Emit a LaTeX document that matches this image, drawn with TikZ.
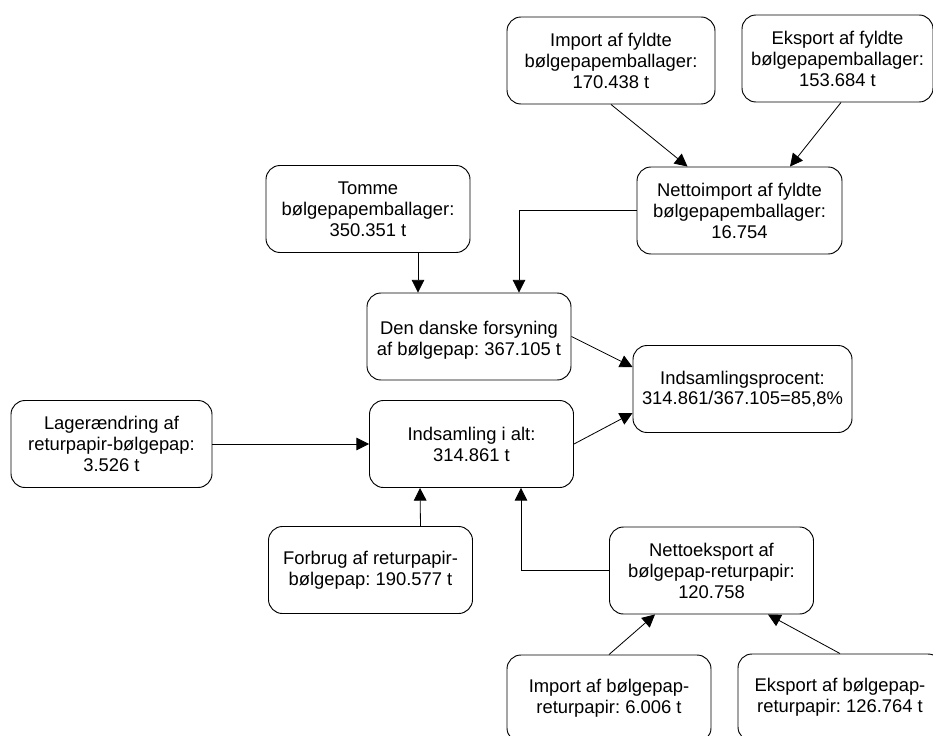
\documentclass[tikz,border=0pt]{standalone}
\usepackage{fontspec}
\setmainfont{Liberation Sans}
\usetikzlibrary{arrows.meta,calc}
\frenchspacing

\begin{document}
\begin{tikzpicture}[x=0.03cm,y=-0.03cm,
box/.style={draw,line width=0.8pt,rounded corners=0.42cm,align=center,minimum height=2.61cm,minimum width=6.12cm,inner sep=0pt,fill=white,font=\fontsize{15.7}{17.9}\selectfont},
arrow/.style={-{Triangle[length=0.38cm,width=0.38cm]},line width=0.7pt}
]
\useasboundingbox (0,0) rectangle (933,736);
\node[box,minimum width=6.24cm] (impF) at (611,60.5) {Import af fyldte\\bølgepapemballager:\\170.438 t};
\node[box,minimum width=5.73cm] (eksF) at (837.5,58.5) {Eksport af fyldte\\bølgepapemballager:\\153.684 t};
\node[box,minimum width=6.15cm] (netImp) at (739.5,210.5) {Nettoimport af fyldte\\bølgepapemballager:\\16.754};
\node[box] (tomme) at (368,209) {Tomme\\bølgepapemballager:\\350.351 t};
\node[box] (forsyn) at (469,336.5) {\mbox{}\\Den danske forsyning\\af bølgepap: 367.105 t};
\node[box,minimum width=6.57cm] (procent) at (742.5,389) {Indsamlingsprocent:\\314.861/367.105=85,8\%};
\node[box,minimum width=6.03cm] (lager) at (111.5,444) {Lagerændring af\\returpapir-bølgepap:\\3.526 t};
\node[box] (indsam) at (471.5,444) {Indsamling i alt:\\314.861 t};
\node[box] (forbrug) at (370.5,570) {Forbrug af returpapir-\\bølgepap: 190.577 t};
\node[box] (netEks) at (711.5,570.5) {Nettoeksport af\\bølgepap-returpapir:\\120.758};
\node[box] (impB) at (609,698.5) {Import af bølgepap-\\returpapir: 6.006 t};
\node[box] (eksB) at (840,697.5) {Eksport af bølgepap-\\returpapir: 126.764 t};
\draw[arrow] (impF.south) -- ($(netImp.north)+(-52,0)$);
\draw[arrow] ($(eksF.south)+(3.5,0)$) -- ($(netImp.north)+(50.5,0)$);
\draw[arrow] (netImp.west) -| ($(forsyn.north)+(50,0)$);
\draw[arrow] ($(tomme.south)+(50,0)$) -- ($(forsyn.north)+(-51,0)$);
\draw[arrow] (forsyn.east) -- ($(procent.west)+(0,-22)$);
\draw[arrow] (indsam.east) -- ($(procent.west)+(0,24)$);
\draw[arrow] (lager.east) -- (indsam.west);
\draw[arrow] ($(forbrug.north)+(50,0)$) -- ($(indsam.south)+(-51.5,0)$);
\draw[arrow] (netEks.west) -| ($(indsam.south)+(49.5,0)$);
\draw[arrow] (impB.north) -- ($(netEks.south)+(-56.5,0)$);
\draw[arrow] (eksB.north) -- ($(netEks.south)+(56.5,0)$);
\end{tikzpicture}
\end{document}
